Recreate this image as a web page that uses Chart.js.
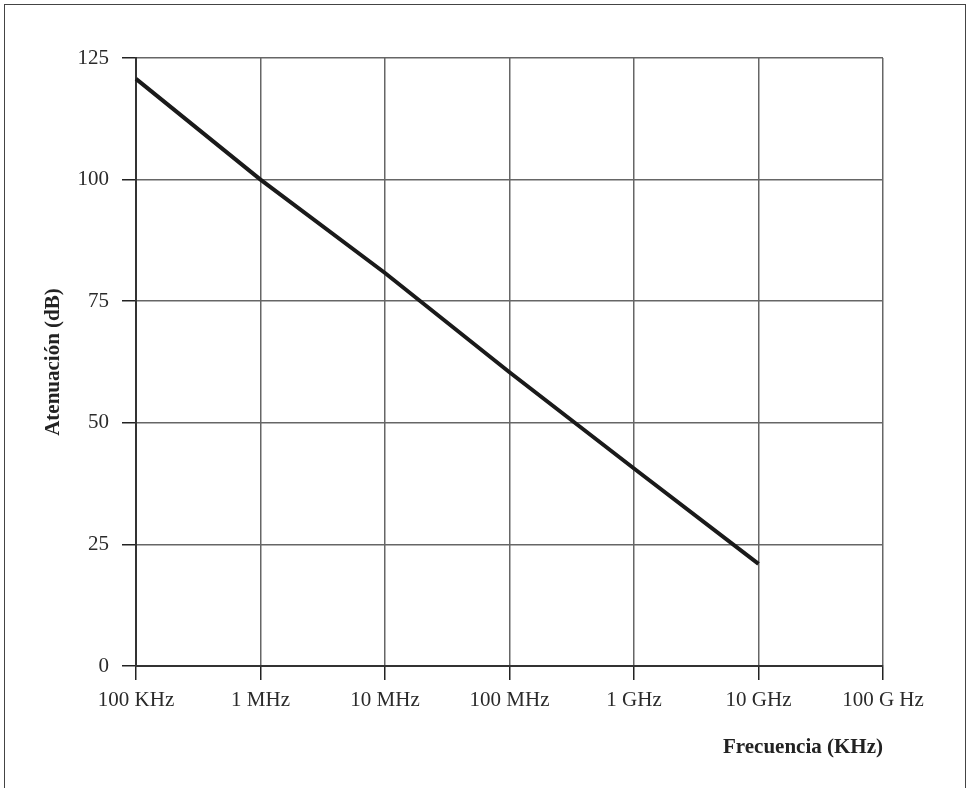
<!DOCTYPE html>
<html>
<head>
    <meta charset="utf-8">
    <title>Atenuación vs frecuencia</title>
    <script src="https://cdn.jsdelivr.net/npm/chart.js"></script>
    <style>
        html, body {
            margin: 0;
            padding: 0;
            background: #fff;
            overflow: hidden;
        }
        #wrap {
            position: relative;
            width: 968px;
            height: 788px;
        }
        /* marco exterior, abierto por abajo */
        #frame {
            position: absolute;
            left: 4px;
            top: 4px;
            width: 962px;
            height: 800px;
            box-sizing: border-box;
            border: 1.5px solid #444;
            border-bottom: none;
            pointer-events: none;
        }
    </style>
</head>
<body>
    <div id="wrap">
        <canvas id="chart" width="968" height="788"></canvas>
        <div id="frame"></div>
    </div>

    <script>
        // frecuencias (eje x) y atenuación en dB
        const frecuencias = ['100 KHz', '1 MHz', '10 MHz', '100 MHz', '1 GHz', '10 GHz', '100 G Hz'];
        const atenuacion = [120.7, 100, 80.8, 60.4, 40.6, 21];
        const ticksY = [0, 25, 50, 75, 100, 125];

        const fuente = 'Liberation Serif, Times New Roman, serif';

        const ctx = document.getElementById('chart').getContext('2d');
        const chart = new Chart(ctx, {
            type: 'line',
            data: {
                labels: frecuencias,
                datasets: [{
                    data: atenuacion,
                    borderColor: '#1a1a1a',
                    borderWidth: 4,
                    borderCapStyle: 'butt',
                    pointRadius: 0,
                    tension: 0,
                    fill: false
                }]
            },
            options: {
                responsive: false,
                animation: false,
                layout: {
                    padding: { top: 58, right: 85, left: 0, bottom: 0 }
                },
                plugins: {
                    legend: { display: false },
                    tooltip: { enabled: false }
                },
                scales: {
                    x: {
                        type: 'category',
                        offset: false,
                        afterFit: (scale) => { scale.height = 122; },
                        grid: {
                            color: '#666',
                            lineWidth: 1.5,
                            tickLength: 14,
                            tickColor: '#222'
                        },
                        border: { color: '#333', width: 2 },
                        ticks: {
                            color: '#2a2a2a',
                            padding: 8,
                            maxRotation: 0,
                            autoSkip: false,
                            font: { family: fuente, size: 21 }
                        },
                        title: {
                            display: true,
                            text: 'Frecuencia (KHz)',
                            align: 'end',
                            color: '#222',
                            padding: { top: 0, bottom: 28 },
                            font: { family: fuente, size: 21, weight: 'bold' }
                        }
                    },
                    y: {
                        min: 0,
                        max: 125,
                        afterFit: (scale) => { scale.width = 136; },
                        afterBuildTicks: (scale) => {
                            scale.ticks = ticksY.map(v => ({ value: v }));
                        },
                        grid: {
                            color: '#666',
                            lineWidth: 1.5,
                            tickLength: 14,
                            tickColor: '#222'
                        },
                        border: { color: '#333', width: 2 },
                        ticks: {
                            color: '#2a2a2a',
                            padding: 13,
                            font: { family: fuente, size: 21 }
                        },
                        title: {
                            display: true,
                            text: 'Atenuación (dB)',
                            color: '#222',
                            padding: { top: 41, bottom: 0 },
                            font: { family: fuente, size: 21, weight: 'bold' }
                        }
                    }
                }
            }
        });
    </script>
</body>
</html>
